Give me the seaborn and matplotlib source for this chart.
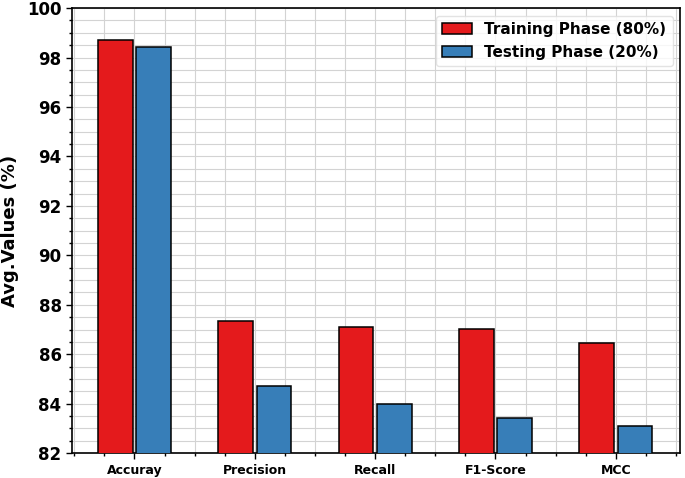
import matplotlib
matplotlib.use("Agg")
import matplotlib.pyplot as plt
import seaborn as sns
import pandas as pd
from matplotlib.ticker import MultipleLocator

metrics = ["Accuray", "Precision", "Recall", "F1-Score", "MCC"]
training = [98.73, 87.36, 87.12, 87.02, 86.46]
testing = [98.44, 84.70, 84.00, 83.43, 83.09]
phases = ["Training Phase (80%)", "Testing Phase (20%)"]
colors = ["#E41A1C", "#377EB8"]

df = pd.DataFrame({
    "Metric": metrics * 2,
    "Value": training + testing,
    "Phase": [phases[0]] * len(metrics) + [phases[1]] * len(metrics),
})

sns.set_style("white")
plt.rcParams["font.family"] = ["DejaVu Sans"]
plt.rcParams["text.color"] = "black"
plt.rcParams["axes.labelcolor"] = "black"
plt.rcParams["xtick.color"] = "black"
plt.rcParams["ytick.color"] = "black"

fig = plt.figure(figsize=(6.85, 4.78), dpi=100)
ax = fig.add_axes([0.105, 0.052, 0.888, 0.931])

sns.barplot(data=df, x="Metric", y="Value", hue="Phase", palette=colors,
            width=0.64, gap=0.1, edgecolor="black", linewidth=1.1,
            saturation=1, ax=ax, zorder=3)

ax.set_ylim(82, 100)
ax.set_xlim(-0.52, 4.535)
ax.yaxis.set_major_locator(MultipleLocator(2))
ax.yaxis.set_minor_locator(MultipleLocator(0.5))
ax.xaxis.set_minor_locator(MultipleLocator(0.25))
ax.grid(True, which="both", color="#d3d3d3", linewidth=0.8, zorder=0)
ax.set_axisbelow(True)

ax.tick_params(axis="both", which="major", direction="out", length=4, width=1,
               pad=3.5, bottom=True, left=True, colors="black")
ax.tick_params(axis="both", which="minor", direction="out", length=2.5, width=1,
               bottom=True, left=True, colors="black")
for lab in ax.get_yticklabels():
    lab.set_fontweight("bold")
    lab.set_fontsize(12)
for lab in ax.get_xticklabels():
    lab.set_fontweight("bold")
    lab.set_fontsize(9)

ax.set_xlabel("")
ax.set_ylabel("Avg.Values (%)", fontsize=13, fontweight="bold", color="black", labelpad=6)
for s in ax.spines.values():
    s.set_color("black")
    s.set_linewidth(1.2)

leg = ax.legend(loc="upper right", prop={"weight": "bold", "size": 11},
                frameon=True, handlelength=2.0)
leg.get_frame().set_edgecolor("#dddddd")
for t in leg.get_texts():
    t.set_color("black")

fig.savefig("out.png", dpi=100)
